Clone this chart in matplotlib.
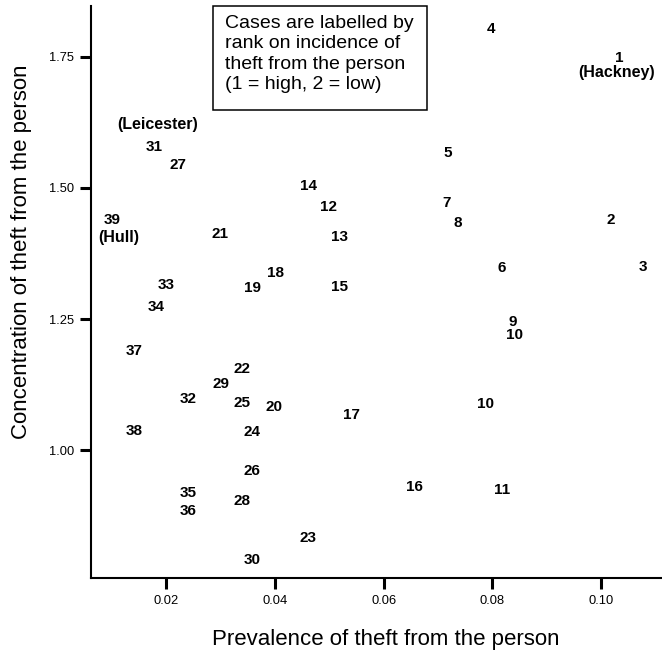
import matplotlib
matplotlib.use("Agg")
import matplotlib.pyplot as plt
from matplotlib.patches import Rectangle

plt.rcParams['font.family'] = ['Liberation Sans', 'DejaVu Sans']

# case labels (rank on incidence) with prevalence / concentration values
case_labels = ['1', '2', '3', '4', '5', '6', '7', '8', '9', '10', '10', '11', '12',
               '13', '14', '15', '16', '17', '18', '19', '20', '21', '22', '23', '24',
               '25', '26', '27', '28', '29', '30', '31', '32', '33', '34', '35', '36',
               '37', '38', '39']
prevalence = [0.1034, 0.1018, 0.1077, 0.0797, 0.0718, 0.0817, 0.0716, 0.0736, 0.0838,
              0.0840, 0.0788, 0.0817, 0.0499, 0.0519, 0.0461, 0.0519, 0.0657, 0.0540,
              0.0400, 0.0358, 0.0398, 0.0299, 0.0339, 0.0461, 0.0358, 0.0339, 0.0358,
              0.0221, 0.0339, 0.0301, 0.0358, 0.0177, 0.0240, 0.0199, 0.0181, 0.0240,
              0.0240, 0.0141, 0.0141, 0.0100]
concentration = [1.747, 1.439, 1.349, 1.803, 1.566, 1.347, 1.471, 1.433, 1.245,
                 1.219, 1.088, 0.924, 1.464, 1.406, 1.504, 1.311, 0.930, 1.067,
                 1.338, 1.309, 1.083, 1.412, 1.155, 0.833, 1.035, 1.090, 0.961,
                 1.544, 0.903, 1.126, 0.791, 1.578, 1.098, 1.315, 1.273, 0.919,
                 0.884, 1.189, 1.037, 1.439]

# named areas: case label, text, offset in points
named_cases = [('1', '(Hackney)', (-2, -10)),
               ('39', '(Hull)', (5, -13)),
               ('31', '(Leicester)', (3, 16))]

xticks = [0.02, 0.04, 0.06, 0.08, 0.10]
yticks = [1.00, 1.25, 1.50, 1.75]

note = ("Cases are labelled by\nrank on incidence of\n"
        "theft from the person\n(1 = high, 2 = low)")

fig = plt.figure(figsize=(6.62, 6.52), dpi=100)
ax = fig.add_axes([0.1375, 0.1135, 0.8625, 0.8773])

for lab, x, y in zip(case_labels, prevalence, concentration):
    ax.text(x, y, lab, ha='center', va='center', fontsize=11, fontweight='bold')

for lab, name, off in named_cases:
    i = case_labels.index(lab)
    ax.annotate(name, (prevalence[i], concentration[i]), xytext=off,
                textcoords='offset points', ha='center', va='center',
                fontsize=11.5, fontweight='bold')

ax.set_xlim(0.00614, 0.1112)
ax.set_ylim(0.7567, 1.8465)
ax.set_xticks(xticks)
ax.set_xticklabels([f'{t:.2f}' for t in xticks])
ax.set_yticks(yticks)
ax.set_yticklabels([f'{t:.2f}' for t in yticks])

ax.spines['top'].set_visible(False)
ax.spines['right'].set_visible(False)
ax.spines['left'].set_linewidth(1.5)
ax.spines['bottom'].set_linewidth(1.5)
ax.tick_params(axis='both', length=8, width=2.2, labelsize=9.3, pad=4)

ax.set_xlabel('Prevalence of theft from the person', fontsize=16)
ax.set_ylabel('Concentration of theft from the person', fontsize=16)
ax.xaxis.label.set_va('center')
ax.yaxis.label.set_va('center')
ax.xaxis.set_label_coords(0.5166, -0.108)
ax.yaxis.set_label_coords(-0.1226, 0.570)

fig.add_artist(Rectangle((213 / 662, 1 - 110 / 652), 214 / 662, 104 / 652,
                         transform=fig.transFigure, fill=False, lw=1.1,
                         edgecolor='black', zorder=5))
fig.text(225 / 662, 1 - 54 / 652, note, ha='left', va='center', fontsize=14,
         linespacing=1.25, zorder=6)

fig.savefig('out.png', dpi=100)
